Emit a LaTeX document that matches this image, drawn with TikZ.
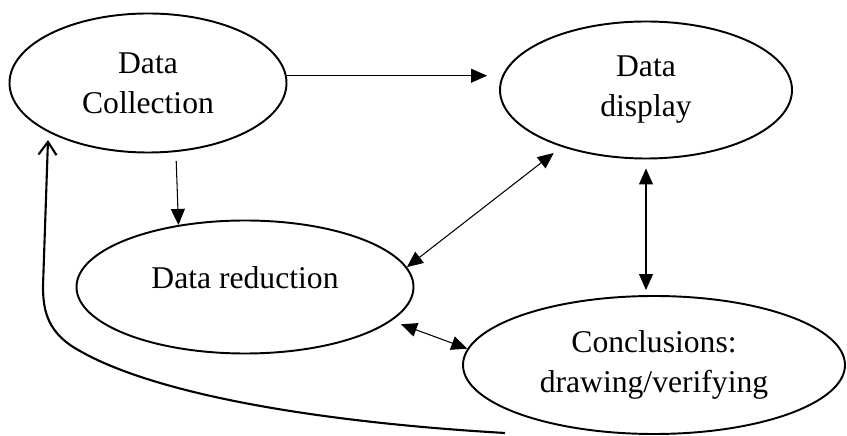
\documentclass[tikz,border=0pt]{standalone}
\usepackage{fontspec}
\setmainfont{Liberation Serif}
\usetikzlibrary{shapes.geometric, arrows.meta, positioning}

\begin{document}
\begin{tikzpicture}[
    stage/.style={ellipse, draw, line width=1.1pt, inner sep=0pt, align=center, font=\fontsize{18}{22.7}\selectfont},
    arrow/.style={-{Triangle[length=3.2mm, width=2.8mm]}, line width=0.6pt},
    twoway/.style={{Triangle[length=3.2mm, width=2.8mm]}-{Triangle[length=3.2mm, width=2.8mm]}, line width=0.6pt},
    feedback/.style={-{Straight Barb[length=2.6mm, width=3.6mm]}, line width=1.2pt}
]
\useasboundingbox (0,0) rectangle (16.94,8.72);

\node[stage, minimum width=5.54cm, minimum height=2.78cm] (collect) at (2.96,7.06) {Data\\Collection};
\node[stage, minimum width=5.84cm, minimum height=2.74cm] (display) at (12.92,6.92) {Data\\display};
\node[stage, minimum width=6.74cm, minimum height=2.66cm, text depth=0.36cm] (reduce) at (4.9,2.98) {Data reduction};
\node[stage, minimum width=7.64cm, minimum height=2.76cm] (concl) at (13.08,1.42) {Conclusions:\\drawing/verifying};

\draw[arrow, shorten >=2.4mm] (collect.3) -- (collect.3 -| display.west);
\draw[arrow, shorten <=1.8mm] (collect.-68) -- (reduce.137);
\draw[twoway, shorten >=2mm] (reduce.7) -- (display.214);
\draw[twoway, shorten <=1.8mm, shorten >=1mm] (display.south) -- (display.south |- concl.north);
\draw[twoway, shorten <=2mm] (reduce.-13) -- (concl.175);

% feedback from conclusions back to collection
\coordinate (fbstart) at (10.1,0.06);
\coordinate (fbtip) at (0.96,5.92);
\draw[feedback] (fbstart) .. controls (6,0.3) and (3,0.9) .. (1.6,1.7)
    .. controls (0.95,2.05) and (0.86,2.5) .. (0.86,3.0) -- (fbtip);

\end{tikzpicture}
\end{document}
